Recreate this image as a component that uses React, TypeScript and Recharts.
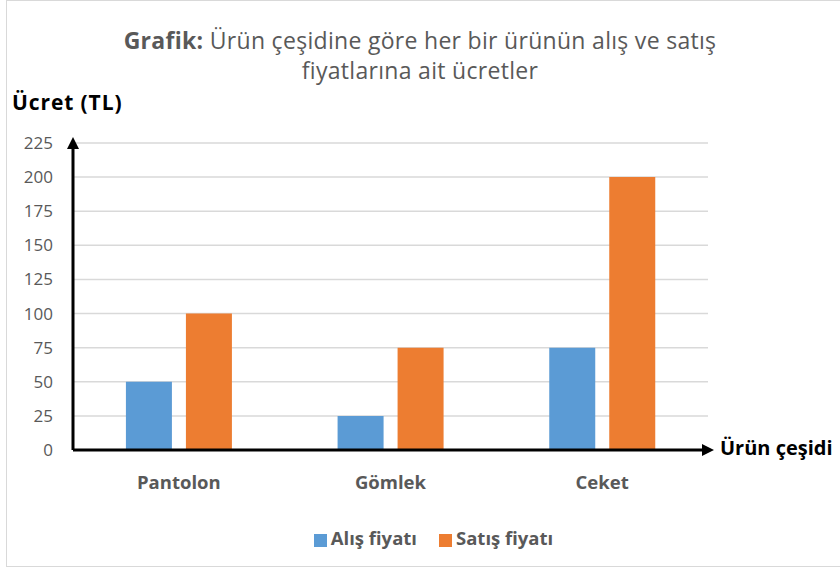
import { BarChart, Bar, XAxis, YAxis, CartesianGrid, Legend } from 'recharts';

const categories = ['Pantolon', 'Gömlek', 'Ceket'];
const alisFiyati = [50, 25, 75];
const satisFiyati = [100, 75, 200];
const yTicks = [0, 25, 50, 75, 100, 125, 150, 175, 200, 225];

const chartData = categories.map((c, i) => ({
  urun: c,
  alis: alisFiyati[i],
  satis: satisFiyati[i],
}));

const FONT = '"Open Sans", Lato, sans-serif';
const GRAY = '#595959';

export default function App() {
  return (
    <div style={{ position: 'fixed', left: 0, top: 0, width: 840, height: 572, background: '#fff', fontFamily: FONT }}>
      <div
        style={{
          position: 'absolute',
          left: 6,
          top: 0,
          width: 840,
          height: 567,
          border: '1px solid #d9d9d9',
          boxSizing: 'border-box',
        }}
      />
      <div
        style={{
          position: 'absolute',
          left: 0,
          top: 25,
          width: 840,
          textAlign: 'center',
          color: GRAY,
          fontSize: 23,
          lineHeight: '30px',
          letterSpacing: 0.3,
        }}
      >
        <div>
          <b>Grafik:</b> Ürün çeşidine göre her bir ürünün alış ve satış
        </div>
        <div>fiyatlarına ait ücretler</div>
      </div>
      <div style={{ position: 'absolute', left: 12, top: 88, fontSize: 21, fontWeight: 700, color: '#000', letterSpacing: 0.9 }}>
        Ücret (TL)
      </div>
      <div style={{ position: 'absolute', left: 720, top: 434, fontSize: 20, fontWeight: 700, color: '#000' }}>
        Ürün çeşidi
      </div>
      <div style={{ position: 'absolute', left: 0, top: 0 }}>
        <BarChart
          width={840}
          height={572}
          data={chartData}
          margin={{ top: 143, right: 132, bottom: 57, left: 13 }}
          barCategoryGap="25%"
          barGap={14}
        >
          <defs>
            <marker id="arrow" viewBox="0 0 10 10" refX="5" refY="5" markerWidth="4" markerHeight="4" orient="auto-start-reverse">
              <path d="M0,0 L10,5 L0,10 z" fill="#000" />
            </marker>
          </defs>
          <CartesianGrid vertical={false} stroke="#d9d9d9" strokeWidth={1.5} />
          <XAxis
            dataKey="urun"
            height={40}
            tickLine={false}
            axisLine={{ stroke: '#000', strokeWidth: 3, markerEnd: 'url(#arrow)' }}
            tick={{ fill: GRAY, fontSize: 18.5, fontWeight: 700, fontFamily: FONT }}
            tickMargin={20}
          />
          <YAxis
            width={60}
            domain={[0, 225]}
            ticks={yTicks}
            interval={0}
            tickLine={false}
            axisLine={{ stroke: '#000', strokeWidth: 3, markerStart: 'url(#arrow)' }}
            tick={{ fill: GRAY, fontSize: 17, fontFamily: FONT }}
            tickMargin={14}
          />
          <Legend
            iconType="square"
            iconSize={13}
            wrapperStyle={{ fontFamily: FONT, fontSize: 18.5, fontWeight: 700, bottom: 22, left: 97 }}
            formatter={(v) => <span style={{ color: GRAY, marginRight: 12 }}>{v}</span>}
          />
          <Bar dataKey="alis" name="Alış fiyatı" fill="#5b9bd5" isAnimationActive={false} />
          <Bar dataKey="satis" name="Satış fiyatı" fill="#ed7d31" isAnimationActive={false} />
        </BarChart>
      </div>
    </div>
  );
}
